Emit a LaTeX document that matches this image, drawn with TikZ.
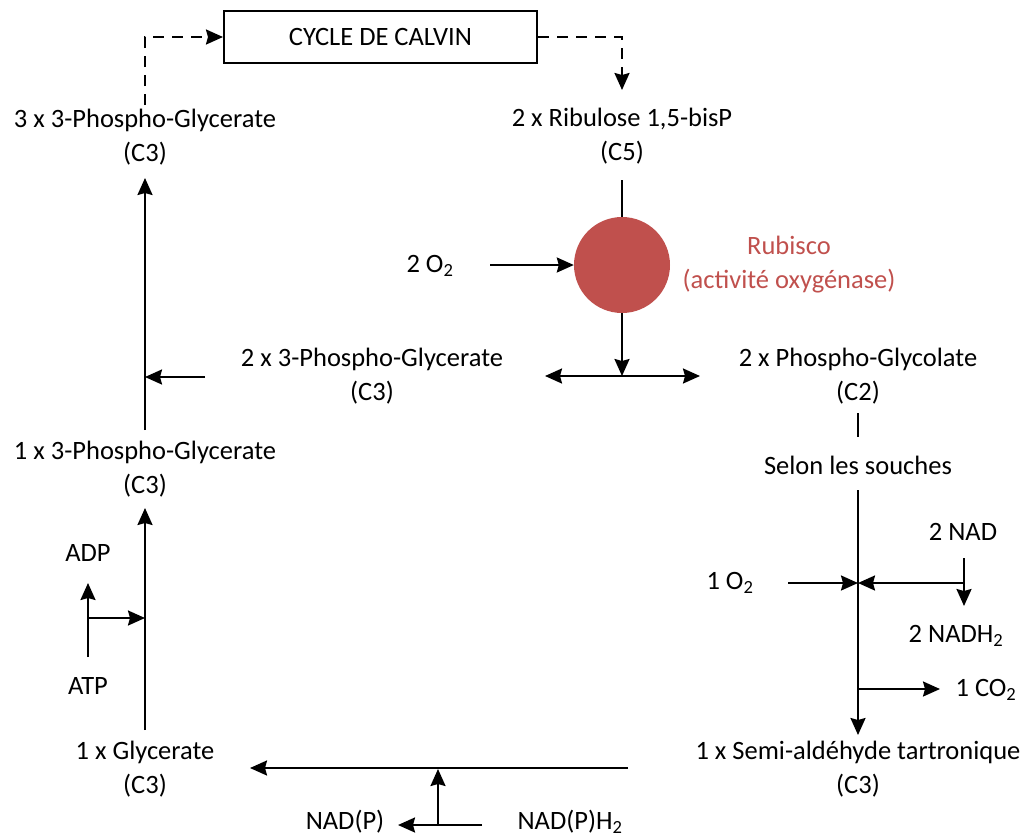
\documentclass[tikz,border=0pt]{standalone}
\usepackage{fontspec}
\setmainfont{Carlito}
\usetikzlibrary{arrows.meta}
\definecolor{rub}{HTML}{C0504D}
\tikzset{
  lbl/.style={align=center, inner sep=0pt, font=\fontsize{26.5}{34}\selectfont},
  conn/.style={line width=2.2pt, -{Stealth[length=17pt,width=15pt,inset=2pt]}},
  dblconn/.style={line width=2.2pt, {Stealth[length=17pt,width=15pt,inset=2pt]}-{Stealth[length=17pt,width=15pt,inset=2pt]}},
  plain/.style={line width=2.2pt},
  dconn/.style={line width=2.2pt, dash pattern=on 11pt off 8pt, -{Stealth[length=17pt,width=15pt,inset=2pt]}},
}
\begin{document}
\begin{tikzpicture}[x=1pt,y=-1pt]
\useasboundingbox (0,0) rectangle (1033,839);
% Calvin box
\node[draw, line width=2pt, minimum width=313pt, minimum height=52pt, font=\fontsize{26.5}{30}\selectfont] (calvin) at (380.5,37) {CYCLE DE CALVIN};
% texts
\node[lbl] (pga3) at (145,137) {3 x 3-Phospho-Glycerate\\(C3)};
\node[lbl] (rubp) at (622,136) {2 x Ribulose 1,5-bisP\\(C5)};
\node[circle, fill=rub, minimum size=96pt, inner sep=0pt] (rubisco) at (622,265) {};
\node[lbl] (o2a) at (430,266) {2 O\textsubscript{2}};
\node[lbl, text=rub] (rublbl) at (789,265) {Rubisco\\(activité oxygénase)};
\node[lbl] (pga2) at (372,376) {2 x 3-Phospho-Glycerate\\(C3)};
\node[lbl] (pgly) at (858,376) {2 x Phospho-Glycolate\\(C2)};
\node[lbl] (pga1) at (145,469) {1 x 3-Phospho-Glycerate\\(C3)};
\node[lbl] (selon) at (858,465) {Selon les souches};
\node[lbl] (adp) at (88,553) {ADP};
\node[lbl] (atp) at (88,686) {ATP};
\node[lbl] (o2b) at (730,583) {1 O\textsubscript{2}};
\node[lbl] (nad) at (963,532) {2 NAD};
\node[lbl] (nadh) at (956,636) {2 NADH\textsubscript{2}};
\node[lbl] (co2) at (986,690) {1 CO\textsubscript{2}};
\node[lbl] (glyc) at (145,769) {1 x Glycerate\\(C3)};
\node[lbl] (semi) at (858,769) {1 x Semi-aldéhyde tartronique\\(C3)};
\node[lbl] (nadp) at (345,822) {NAD(P)};
\node[lbl] (nadph) at (570,822) {NAD(P)H\textsubscript{2}};
% coordinates
\coordinate (c1) at (145,105);
\coordinate (c1t) at (145,37);
\coordinate (c2) at (622,37);
\coordinate (c2b) at (622,90);
\coordinate (rtop) at (622,180);
\coordinate (o2s) at (490,265);
\coordinate (junc) at (622,376);
\coordinate (jl) at (545,376);
\coordinate (jr) at (700,376);
\coordinate (pgas) at (205,377);
\coordinate (pgae) at (145,377);
\coordinate (l1s) at (145,430);
\coordinate (l1e) at (145,178);
\coordinate (l2s) at (145,730);
\coordinate (l2e) at (145,508);
\coordinate (atps) at (88,657);
\coordinate (adpe) at (88,583);
\coordinate (atpm) at (88,618);
\coordinate (atpe) at (145,618);
\coordinate (gs) at (858,413);
\coordinate (ge) at (858,437);
\coordinate (ss) at (858,490);
\coordinate (se) at (858,735);
\coordinate (o2st) at (788,583);
\coordinate (jo) at (858,583);
\coordinate (nads) at (964,558);
\coordinate (nade) at (964,606);
\coordinate (nadm) at (964,583);
\coordinate (co2s) at (858,689);
\coordinate (co2e) at (940,689);
\coordinate (bs) at (628,768);
\coordinate (be) at (250,768);
\coordinate (bvs) at (438,825);
\coordinate (bve) at (438,769);
\coordinate (bhs) at (482,825);
\coordinate (bhe) at (398,825);
% connectors
\draw[dconn] (c1) -- (c1t) -- (calvin.west);
\draw[dconn] (calvin.east) -- (c2) -- (c2b);
\draw[plain] (rtop) -- (rubisco.north);
\draw[conn] (o2s) -- (rubisco.west);
\draw[conn] (rubisco.south) -- (junc);
\draw[dblconn] (jl) -- (jr);
\draw[conn] (pgas) -- (pgae);
\draw[conn] (l1s) -- (l1e);
\draw[conn] (l2s) -- (l2e);
\draw[conn] (atps) -- (adpe);
\draw[conn] (atpm) -- (atpe);
\draw[plain] (gs) -- (ge);
\draw[conn] (ss) -- (se);
\draw[conn] (o2st) -- (jo);
\draw[conn] (nadm) -- (jo);
\draw[conn] (nads) -- (nade);
\draw[conn] (co2s) -- (co2e);
\draw[conn] (bs) -- (be);
\draw[conn] (bvs) -- (bve);
\draw[conn] (bhs) -- (bhe);
\end{tikzpicture}
\end{document}
